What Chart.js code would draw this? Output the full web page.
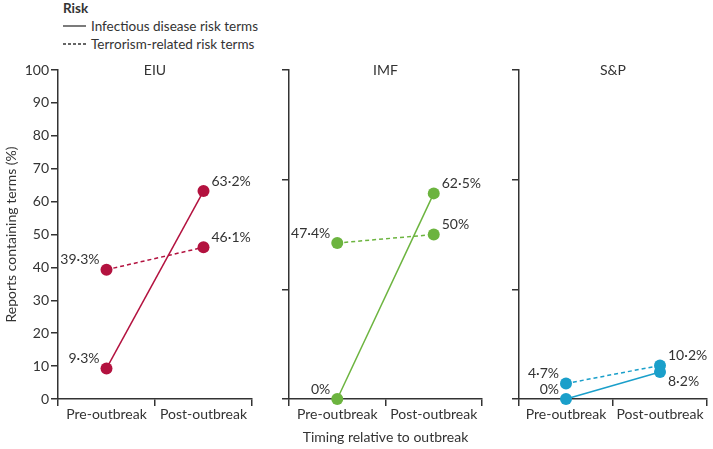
<!DOCTYPE html>
<html>
<head>
<meta charset="utf-8">
<script src="https://cdn.jsdelivr.net/npm/chart.js@4.4.1/dist/chart.umd.min.js"></script>
<style>
  body { margin: 0; width: 713px; height: 449px; overflow: hidden; background: #fff; position: relative; font-family: Lato, sans-serif; color: #333; }
  canvas { position: absolute; top: 0; }
  #legend { position: absolute; left: 63px; top: -1px; font-size: 13.5px; line-height: 18px; }
  #legend .row { display: flex; align-items: center; white-space: nowrap; }
  #legend svg { margin-right: 5px; }
</style>
</head>
<body>
<div id="legend">
  <div class="row"><b>Risk</b></div>
  <div class="row"><svg width="23" height="4"><line x1="0" y1="2" x2="23" y2="2" stroke="#333" stroke-width="1.3"/></svg>Infectious disease risk terms</div>
  <div class="row"><svg width="23" height="4"><line x1="0" y1="2" x2="23" y2="2" stroke="#333" stroke-width="1.3" stroke-dasharray="3,2"/></svg>Terrorism-related risk terms</div>
</div>
<canvas id="eiu" width="260" height="449" style="left:0px"></canvas>
<canvas id="imf" width="230" height="449" style="left:260px"></canvas>
<canvas id="sp" width="223" height="449" style="left:490px"></canvas>
<script>
const categories = ['Pre-outbreak', 'Post-outbreak'];
const yTicks = [0, 10, 20, 30, 40, 50, 60, 70, 80, 90, 100];

const eiuInfectious = [9.3, 63.2];
const eiuTerrorism = [39.3, 46.1];
const imfInfectious = [0, 62.5];
const imfTerrorism = [47.4, 50];
const spInfectious = [0, 8.2];
const spTerrorism = [4.7, 10.2];

const FONT = 'Lato, sans-serif';
const SIZE = 14;
const INK = '#333';

function fmt(v) { return String(v).replace('.', '\u00b7') + '%'; }

// panel name drawn at the top of the plot area
const panelTitle = {
  id: 'panelTitle',
  afterDraw(chart, args, opts) {
    const {ctx, chartArea} = chart;
    ctx.save();
    ctx.font = SIZE + 'px ' + FONT;
    ctx.fillStyle = INK;
    ctx.textAlign = 'center';
    ctx.textBaseline = 'middle';
    ctx.fillText(opts.text, (chartArea.left + chartArea.right) / 2, chartArea.top);
    ctx.restore();
  }
};

// value labels: left of the first point, right of the second, moved below if they clash
const valueLabels = {
  id: 'valueLabels',
  afterDatasetsDraw(chart) {
    const {ctx} = chart;
    ctx.save();
    ctx.font = SIZE + 'px ' + FONT;
    ctx.fillStyle = INK;
    ctx.textBaseline = 'middle';
    categories.forEach((c, i) => {
      const items = chart.data.datasets.map((ds, d) => {
        const pt = chart.getDatasetMeta(d).data[i];
        return {v: ds.data[i], x: pt.x, y: pt.y, ly: pt.y - 10};
      });
      items.sort((a, b) => a.ly - b.ly);
      for (let k = 1; k < items.length; k++) {
        if (items[k].ly - items[k - 1].ly < 13) items[k].ly = items[k].y + 9;
      }
      items.forEach(it => {
        ctx.textAlign = i === 0 ? 'right' : 'left';
        ctx.fillText(fmt(it.v), i === 0 ? it.x - 7 : it.x + 8, it.ly);
      });
    });
    ctx.restore();
  }
};

function makePanel(id, name, color, infectious, terrorism, first, padRight) {
  const yScale = {
    min: 0, max: 100,
    grid: { drawOnChartArea: false, drawTicks: true, tickLength: 7, color: INK, lineWidth: 1.5 },
    border: { display: true, color: INK, width: 1.5 },
    afterFit: s => { s.width = first ? 58 : 29; }
  };
  if (first) {
    yScale.afterBuildTicks = s => { s.ticks = yTicks.map(v => ({value: v})); };
    yScale.ticks = { color: INK, font: {size: SIZE, family: FONT}, padding: 2 };
    yScale.title = { display: true, text: 'Reports containing terms (%)', color: INK, font: {size: SIZE, family: FONT}, padding: {top: 3} };
  } else {
    yScale.afterBuildTicks = s => { s.ticks = [0, 1, 2, 3].map(k => ({value: k * 100 / 3})); };
    yScale.ticks = { callback: () => '' };
  }
  const xScale = {
    type: 'category',
    offset: true,
    grid: { offset: true, drawOnChartArea: false, drawTicks: true, tickLength: 7, color: INK, lineWidth: 1.5 },
    border: { display: true, color: INK, width: 1.5 },
    ticks: { color: INK, font: {size: SIZE, family: FONT}, padding: 0, maxRotation: 0 },
    afterFit: s => { s.height = 50; }
  };
  if (name === 'IMF') {
    xScale.title = { display: true, text: 'Timing relative to outbreak', color: INK, font: {size: SIZE, family: FONT}, padding: {bottom: 3} };
  }
  return new Chart(document.getElementById(id), {
    type: 'line',
    data: {
      labels: categories,
      datasets: [
        { label: 'Infectious disease risk terms', data: infectious, borderColor: color, backgroundColor: color,
          borderWidth: 1.5, pointRadius: 6, pointBorderWidth: 0, pointBackgroundColor: color, clip: false },
        { label: 'Terrorism-related risk terms', data: terrorism, borderColor: color, backgroundColor: color,
          borderWidth: 1.5, borderDash: [4, 3], pointRadius: 6, pointBorderWidth: 0, pointBackgroundColor: color, clip: false }
      ]
    },
    options: {
      responsive: false,
      animation: false,
      devicePixelRatio: 1,
      layout: { padding: { top: 70, right: padRight, bottom: 0, left: 0 } },
      plugins: { legend: { display: false }, tooltip: { enabled: false }, panelTitle: { text: name } },
      scales: { x: xScale, y: yScale }
    },
    plugins: [panelTitle, valueLabels]
  });
}

makePanel('eiu', 'EIU', '#b3123f', eiuInfectious, eiuTerrorism, true, 8);
makePanel('imf', 'IMF', '#6cb43f', imfInfectious, imfTerrorism, false, 8);
makePanel('sp', 'S&P', '#1a9fca', spInfectious, spTerrorism, false, 1);
</script>
</body>
</html>
